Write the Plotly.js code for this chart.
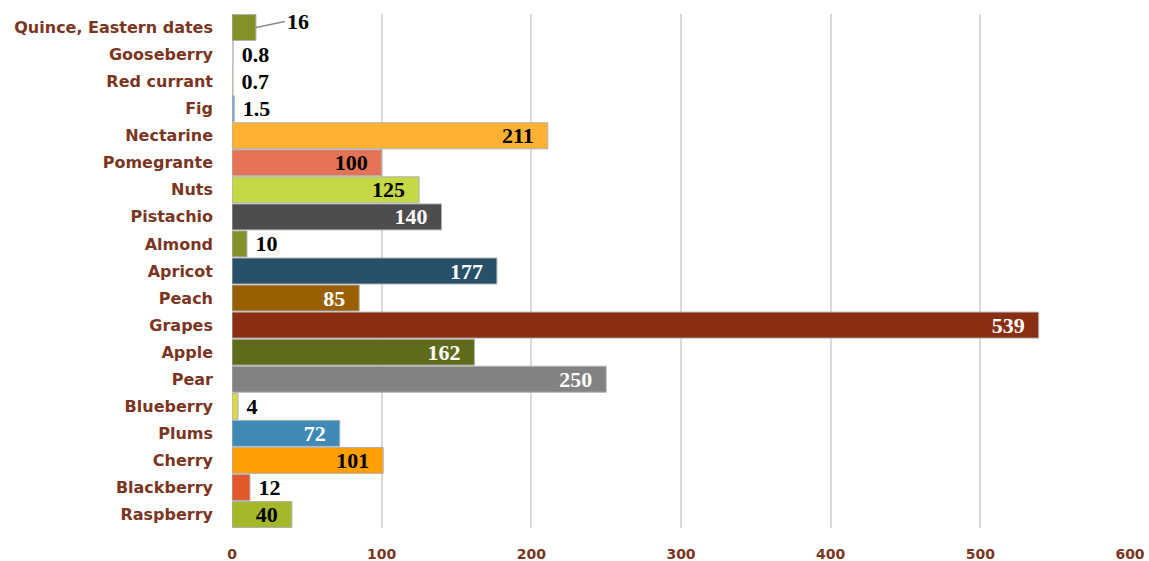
<!DOCTYPE html>
<html><head><meta charset="utf-8">
<script src="https://cdn.plot.ly/plotly-3.0.1.min.js"></script>
<style>html,body{margin:0;padding:0;background:#fff}#chart{width:1149px;height:561px}</style>
</head><body><div id="chart"></div>
<script>
const categories = ["Quince, Eastern dates","Gooseberry","Red currant","Fig","Nectarine","Pomegrante","Nuts","Pistachio","Almond","Apricot","Peach","Grapes","Apple","Pear","Blueberry","Plums","Cherry","Blackberry","Raspberry"];
const values = [16,0.8,0.7,1.5,211,100,125,140,10,177,85,539,162,250,4,72,101,12,40];
const labels = ["16","0.8","0.7","1.5","211","100","125","140","10","177","85","539","162","250","4","72","101","12","40"];
const barColors = ["#849126","#f2f2f2","#f4f0b0","#74acd4","#ffb133","#e57357","#c6d843","#4d4d4d","#849126","#265168","#9a5f00","#8a2e14","#606b1a","#828282","#dcd84a","#3f89b6","#ff9e05","#e2582a","#a5b72b"];
const textPos = ["none","outside","outside","outside","inside","inside","inside","inside","outside","inside","inside","inside","inside","inside","outside","inside","inside","outside","inside"];
const textColors = ["#000","#000","#000","#000","#000","#000","#000","#fff","#000","#fff","#fff","#fff","#fff","#fff","#000","#fff","#000","#000","#000"];
const xTicks = [0,100,200,300,400,500,600];

const NB = "\u00a0";
const trace = {
  type: "bar", orientation: "h",
  y: categories, x: values,
  text: labels.map((t,i)=> textPos[i]==="none" ? "" : (textPos[i]==="inside" ? t + NB + NB : NB + t)),
  textposition: textPos.map(p=> p==="none" ? "none" : p),
  insidetextanchor: "end",
  constraintext: "none",
  cliponaxis: false,
  textfont: {family: "Liberation Serif", size: 22, color: textColors, weight: "bold"},
  marker: {color: barColors, line: {color: "#b0b0b0", width: 1}},
  hoverinfo: "none"
};

const layout = {
  width: 1149, height: 561,
  margin: {l: 232, r: 19, t: 14, b: 33},
  paper_bgcolor: "#fff", plot_bgcolor: "#fff",
  bargap: 0.04,
  showlegend: false,
  xaxis: {
    range: [0, 600], tickvals: xTicks, ticktext: xTicks.map(String),
    showgrid: true, gridcolor: "#d9d9d9", gridwidth: 2,
    zeroline: false, showline: false, ticks: "",
    ticklabelstandoff: 16,
    tickfont: {family: "DejaVu Sans", size: 14, color: "#7b3523", weight: "bold"}
  },
  yaxis: {
    autorange: "reversed", type: "category",
    showgrid: false, zeroline: false, showline: false, ticks: "",
    ticklabelstandoff: 18,
    tickfont: {family: "DejaVu Sans", size: 16, color: "#7b3523", weight: "bold"}
  },
  annotations: [{
    x: values[0], y: categories[0], xref: "x", yref: "y",
    text: labels[0], showarrow: true, arrowhead: 0, arrowwidth: 1.5, arrowcolor: "#8c8c8c",
    ax: 29, ay: -6, xanchor: "left",
    font: {family: "Liberation Serif", size: 22, color: "#000", weight: "bold"}
  }]
};

Plotly.newPlot("chart", [trace], layout, {displayModeBar: false, staticPlot: true});
</script></body></html>
